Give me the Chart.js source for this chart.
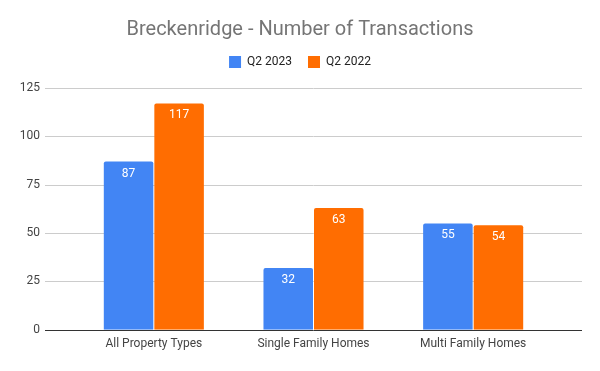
<!DOCTYPE html>
<html>
<head>
<meta charset="utf-8">
<script src="https://cdn.jsdelivr.net/npm/chart.js@4"></script>
<style>
  html, body { margin: 0; padding: 0; background: #fff; }
  #wrap { width: 600px; height: 371px; }
</style>
</head>
<body>
<div id="wrap"><canvas id="chart"></canvas></div>
<script>
// chart data
var categories = ["All Property Types", "Single Family Homes", "Multi Family Homes"];
var q2_2023 = [87, 32, 55];
var q2_2022 = [117, 63, 54];
var yTicks = [0, 25, 50, 75, 100, 125];

// gridlines run wider than the category area, like the sheets chart
var extendedGrid = {
  id: "extendedGrid",
  beforeDatasetsDraw: function (chart) {
    var ctx = chart.ctx;
    var area = chart.chartArea;
    var y = chart.scales.y;
    var left = area.left - 29;
    var right = area.right + 29;
    ctx.save();
    yTicks.forEach(function (v) {
      var py = Math.round(y.getPixelForValue(v)) + 0.5;
      ctx.beginPath();
      ctx.strokeStyle = v === 0 ? "#333333" : "#cccccc";
      ctx.lineWidth = 1;
      ctx.moveTo(left, py);
      ctx.lineTo(right, py);
      ctx.stroke();
    });
    ctx.restore();
  },
};

// white value labels inside the top of each bar
var barLabels = {
  id: "barLabels",
  afterDatasetsDraw: function (chart) {
    var ctx = chart.ctx;
    ctx.save();
    ctx.font = "12px Roboto";
    ctx.fillStyle = "#ffffff";
    ctx.textAlign = "center";
    ctx.textBaseline = "middle";
    chart.data.datasets.forEach(function (ds, i) {
      chart.getDatasetMeta(i).data.forEach(function (bar, j) {
        ctx.fillText(ds.data[j], bar.x, bar.y + 12);
      });
    });
    ctx.restore();
  },
};

// a bit more room under the legend
var legendGap = {
  id: "legendGap",
  beforeInit: function (chart) {
    var fit = chart.legend.fit;
    chart.legend.fit = function () {
      fit.bind(chart.legend)();
      this.height += 10;
    };
  },
};

new Chart(document.getElementById("chart"), {
  type: "bar",
  data: {
    labels: categories,
    datasets: [
      {
        label: "Q2 2023",
        data: q2_2023,
        backgroundColor: "#4285f4",
        borderRadius: { topLeft: 2, topRight: 2 },
        borderSkipped: "bottom",
        categoryPercentage: 0.633,
        barPercentage: 0.98,
      },
      {
        label: "Q2 2022",
        data: q2_2022,
        backgroundColor: "#ff6d01",
        borderRadius: { topLeft: 2, topRight: 2 },
        borderSkipped: "bottom",
        categoryPercentage: 0.633,
        barPercentage: 0.98,
      },
    ],
  },
  options: {
    responsive: true,
    maintainAspectRatio: false,
    animation: false,
    layout: { padding: { left: 0, right: 0, top: 0, bottom: 10 } },
    plugins: {
      title: {
        display: true,
        text: "Breckenridge - Number of Transactions",
        color: "#757575",
        font: { family: "Roboto", size: 20, weight: "normal", lineHeight: 1 },
        padding: { top: 20, bottom: 0 },
      },
      legend: {
        display: true,
        position: "top",
        labels: {
          color: "#222222",
          font: { family: "Roboto", size: 12 },
          boxWidth: 12,
          boxHeight: 12,
          padding: 16,
        },
      },
      tooltip: { enabled: false },
    },
    scales: {
      x: {
        grid: { display: false, drawTicks: false },
        border: { display: false },
        ticks: {
          color: "#444444",
          font: { family: "Roboto", size: 12 },
          padding: 7,
          maxRotation: 0,
        },
      },
      y: {
        min: 0,
        max: 125,
        grid: { display: false, drawTicks: false },
        border: { display: false },
        ticks: {
          stepSize: 25,
          color: "#444444",
          font: { family: "Roboto", size: 12 },
          padding: 34,
        },
        afterFit: function (scale) { scale.width = 74; },
      },
      y2: {
        position: "right",
        grid: { display: false, drawTicks: false },
        border: { display: false },
        ticks: { display: false },
        afterFit: function (scale) { scale.width = 47; },
      },
    },
  },
  plugins: [extendedGrid, barLabels, legendGap],
});
</script>
</body>
</html>
